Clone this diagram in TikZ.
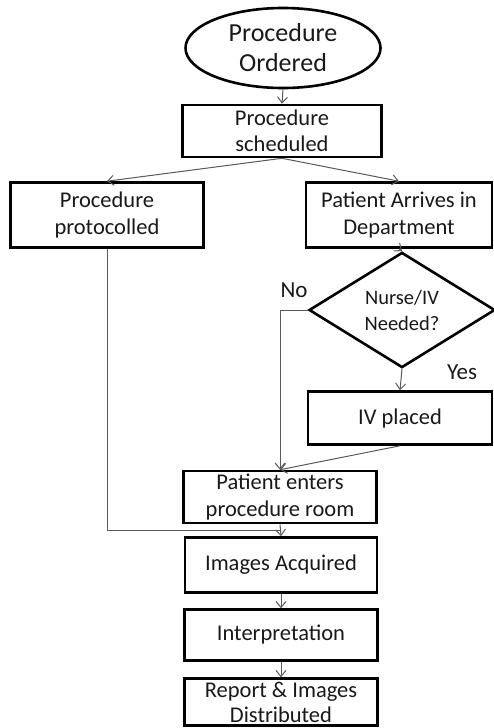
\documentclass[tikz,border=0pt]{standalone}
\usepackage{fontspec}
\setmainfont{Carlito}
\usetikzlibrary{shapes.geometric,arrows.meta}
\begin{document}
\begin{tikzpicture}[x=1pt,y=-1pt,
  box/.style={draw=black,line width=2.6pt,rectangle,inner sep=0pt,align=center,
    font=\fontsize{22.5}{26.5}\selectfont,text=black!90},
  conn/.style={draw=black!65,line width=1pt},
  arr/.style={conn,-{Straight Barb[length=6pt,width=10pt]}},
  lbl/.style={font=\fontsize{23}{26}\selectfont,text=black!90,inner sep=0pt}]
\useasboundingbox (0,0) rectangle (494,728);
\node[draw=black,line width=2.6pt,ellipse,minimum width=195pt,minimum height=80pt,inner sep=0pt,
  align=center,font=\fontsize{26}{30}\selectfont,text=black!90] (ell) at (283,48) {Procedure\\Ordered};
\node[box,minimum width=199pt,minimum height=52pt] (sched) at (282,131) {Procedure\\scheduled};
\node[box,minimum width=193pt,minimum height=65pt] (proto) at (107,215) {Procedure\\protocolled};
\node[box,minimum width=186pt,minimum height=65pt] (arrv) at (399,215) {Patient Arrives in\\Department};
\node[draw=black,line width=2.6pt,diamond,minimum width=186pt,minimum height=114pt,inner sep=0pt,
  align=center,font=\fontsize{20.5}{26}\selectfont,text=black!90] (dia) at (402,310) {Nurse/IV\\Needed?};
\node[box,minimum width=184pt,minimum height=53pt] (iv) at (400,418) {IV placed};
\node[box,minimum width=193pt,minimum height=52pt] (pe) at (280,497) {Patient enters\\procedure room};
\node[box,minimum width=192pt,minimum height=55pt] (ia) at (281,565) {Images Acquired};
\node[box,minimum width=193pt,minimum height=51pt] (interp) at (281,635) {Interpretation};
\node[box,minimum width=193pt,minimum height=47pt,font=\fontsize{22.5}{25}\selectfont] (rep) at (281,702) {Report \& Images\\Distributed};
\node[lbl] (no) at (294,290) {No};
\node[lbl] (yes) at (462,372) {Yes};
\coordinate (j) at (280,530);
\draw[arr] (ell.south) -- (sched.north);
\draw[arr] (sched.south) -- (proto.north);
\draw[arr] (sched.south) -- (arrv.north);
\draw[arr] (arrv.south) -- (dia.north);
\draw[arr] (dia.south) -- (iv.north);
\draw[arr] (dia.west) -| (pe.north);
\draw[arr] (iv.south) -- (pe.north);
\draw[conn] (proto.south) |- (j);
\draw[arr] (pe.south) -- (ia.north);
\draw[arr] (ia.south) -- (interp.north);
\draw[arr] (interp.south) -- (rep.north);
\end{tikzpicture}
\end{document}
